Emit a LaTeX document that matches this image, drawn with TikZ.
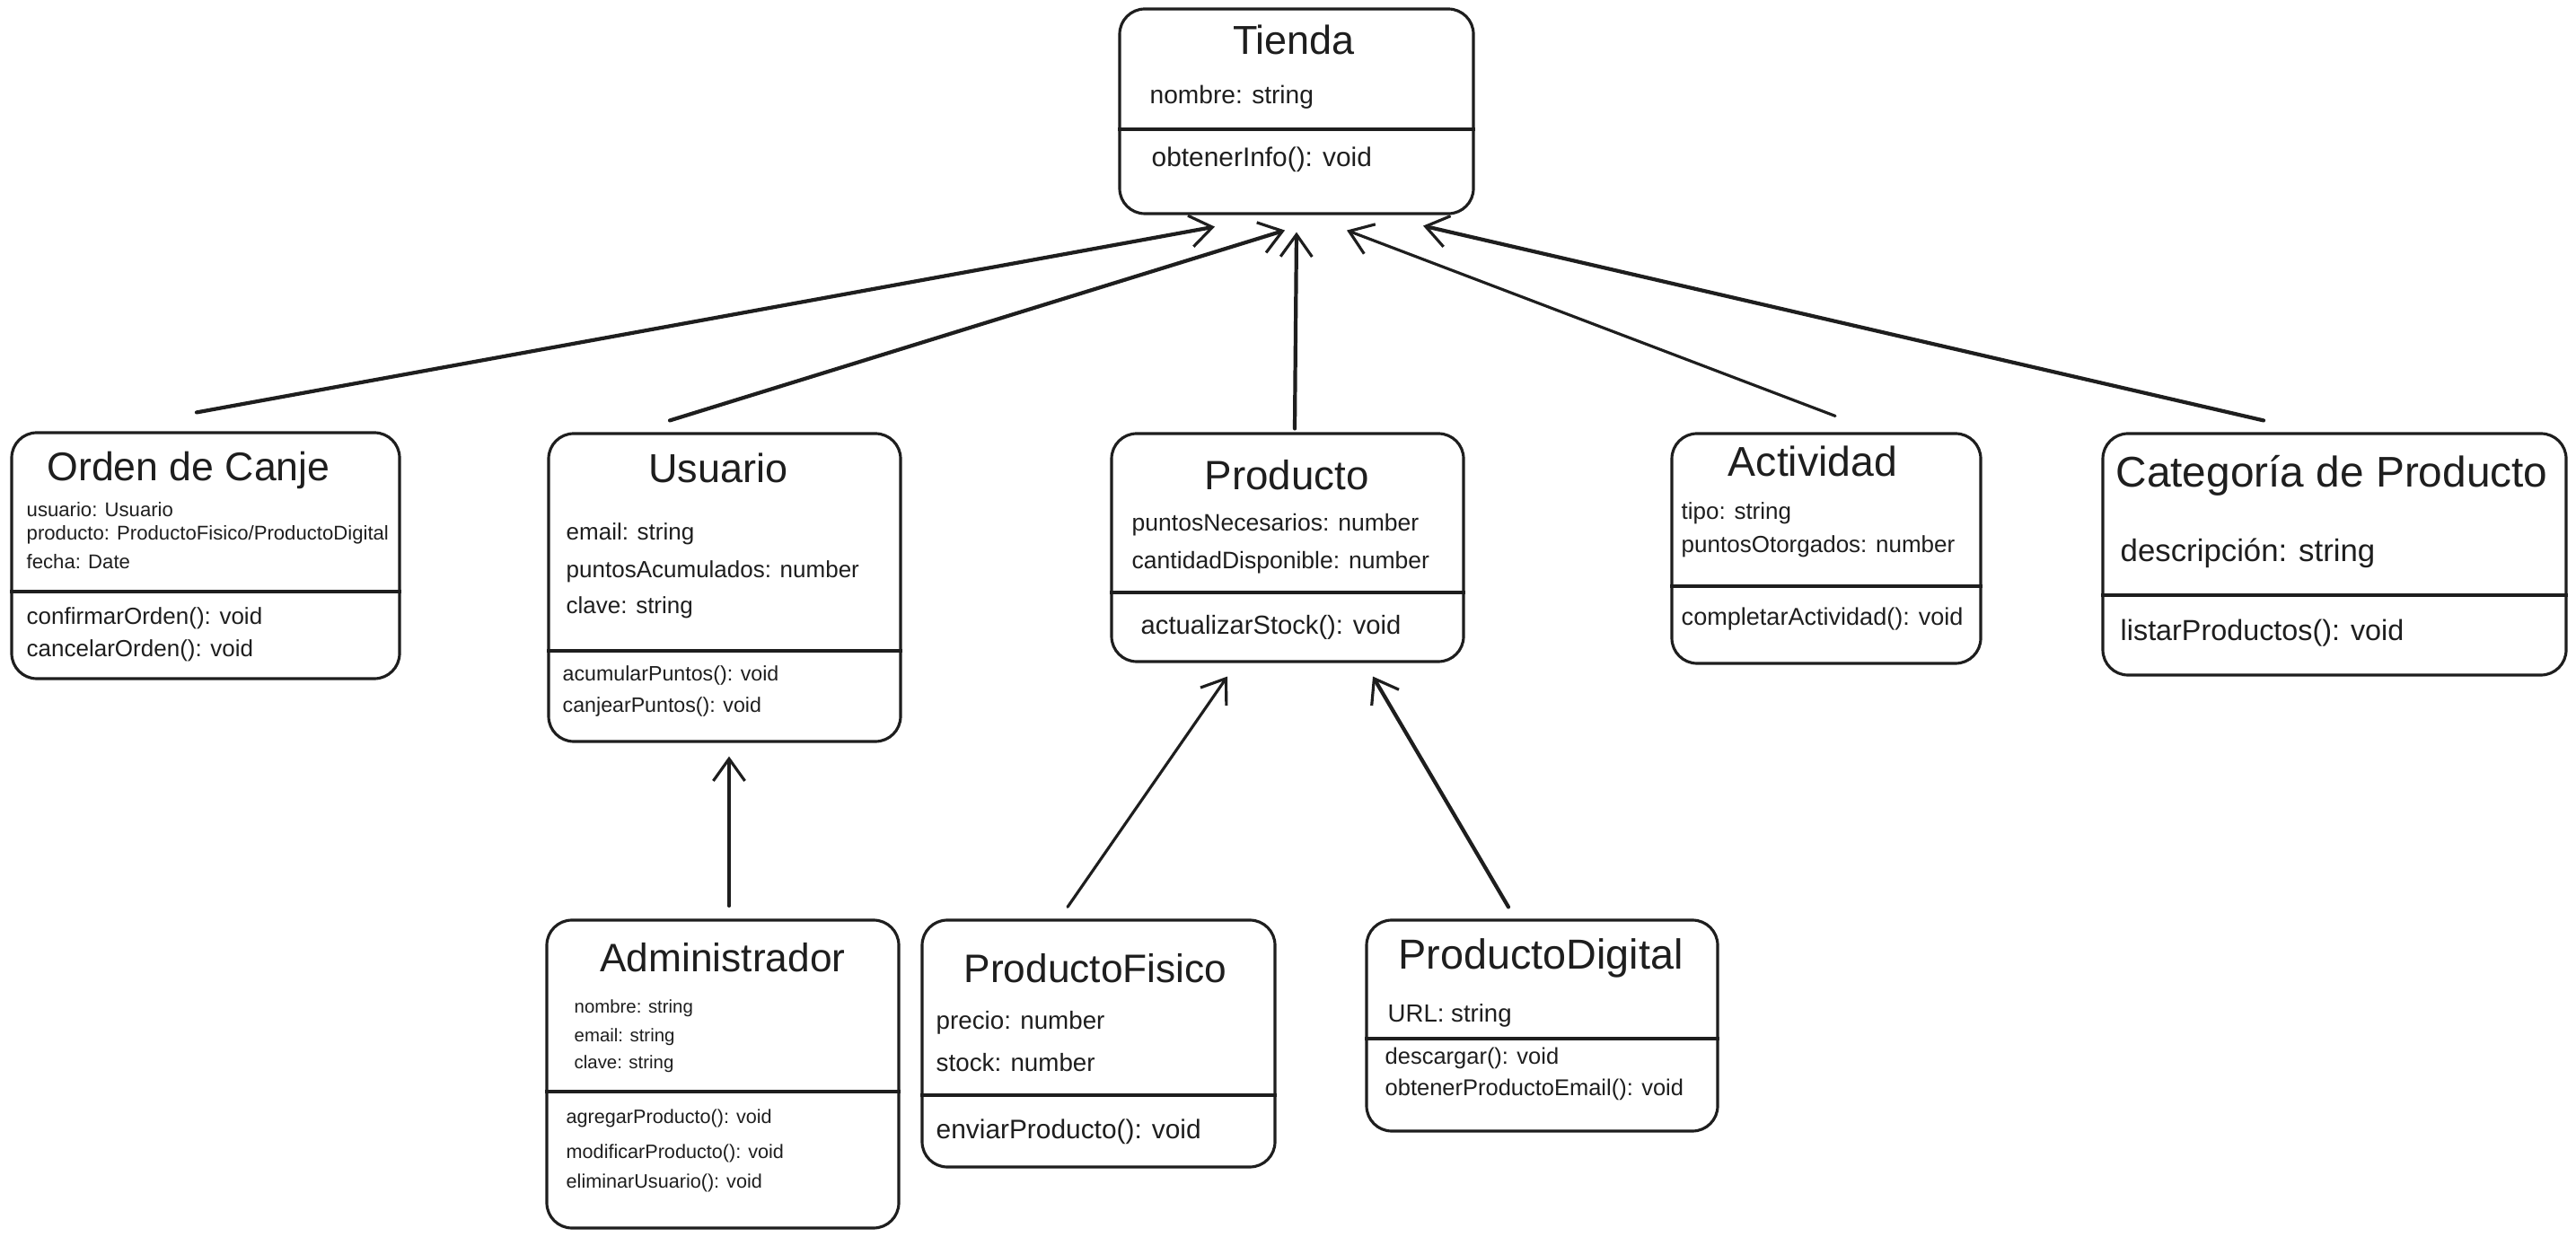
\documentclass[tikz,border=0pt]{standalone}
\usepackage{fontspec}
\setmainfont{Liberation Sans}
\usetikzlibrary{arrows.meta}
\definecolor{ink}{HTML}{1E1E1E}
\newcommand{\fs}[1]{\fontsize{#1}{#1}\selectfont}
\tikzset{
  box/.style={draw=ink, line width=0.9pt, rounded corners=0.28cm, inner sep=0pt, anchor=center},
  divline/.style={draw=ink, line width=0.9pt},
  arr/.style={draw=ink, line width=0.9pt, line cap=round, -{Straight Barb[length=7pt,width=10pt,line width=0.9pt]}},
  boldarr/.style={arr, line width=1.2pt},
  ttl/.style={anchor=center, inner sep=0pt, text height=0.72em, text depth=0em, text=ink},
  ln/.style={anchor=west, inner sep=0pt, text height=0.7em, text depth=0.2em, text=ink},
}
\begin{document}
\begin{tikzpicture}
\useasboundingbox[fill=white] (0,0) rectangle (28.69,-13.78);

% ---------- boxes ----------
\node[box, minimum width=3.94cm, minimum height=2.28cm] (tienda) at (14.44,-1.24) {};
\node[box, minimum width=4.32cm, minimum height=2.74cm] (orden) at (2.29,-6.19) {};
\node[box, minimum width=3.92cm, minimum height=3.43cm] (usuario) at (8.07,-6.545) {};
\node[box, minimum width=3.92cm, minimum height=2.54cm] (producto) at (14.34,-6.10) {};
\node[box, minimum width=3.44cm, minimum height=2.56cm] (actividad) at (20.34,-6.11) {};
\node[box, minimum width=5.16cm, minimum height=2.69cm] (categoria) at (26.00,-6.175) {};
\node[box, minimum width=3.92cm, minimum height=3.43cm] (admin) at (8.05,-11.965) {};
\node[box, minimum width=3.93cm, minimum height=2.75cm] (pfisico) at (12.235,-11.625) {};
\node[box, minimum width=3.91cm, minimum height=2.35cm] (pdigital) at (17.175,-11.425) {};

% ---------- dividers ----------
\draw[divline] (tienda.west |- 0,-1.44) -- (tienda.east |- 0,-1.44);
\draw[divline] (orden.west |- 0,-6.59) -- (orden.east |- 0,-6.59);
\draw[divline] (usuario.west |- 0,-7.25) -- (usuario.east |- 0,-7.25);
\draw[divline] (producto.west |- 0,-6.60) -- (producto.east |- 0,-6.60);
\draw[divline] (actividad.west |- 0,-6.53) -- (actividad.east |- 0,-6.53);
\draw[divline] (categoria.west |- 0,-6.63) -- (categoria.east |- 0,-6.63);
\draw[divline] (admin.west |- 0,-12.16) -- (admin.east |- 0,-12.16);
\draw[divline] (pfisico.west |- 0,-12.20) -- (pfisico.east |- 0,-12.20);
\draw[divline] (pdigital.west |- 0,-11.57) -- (pdigital.east |- 0,-11.57);

% ---------- Tienda ----------
\node[ttl, font=\fs{12.8}] (tiT) at (14.41,-0.48) {Tienda};
\node[ln, font=\fs{8.0}] (tiA1) at (12.80,-1.07) {nombre: string};
\node[ln, font=\fs{8.5}] (tiM1) at (12.82,-1.77) {obtenerInfo(): void};

% ---------- Orden de Canje ----------
\node[ttl, font=\fs{12.7}] (orT) at (2.10,-5.23) {Orden de Canje};
\node[ln, font=\fs{6.3}] (orA1) at (0.29,-5.67) {usuario: Usuario};
\node[ln, font=\fs{6.3}] (orA2) at (0.29,-5.93) {producto: ProductoFisico/ProductoDigital};
\node[ln, font=\fs{6.3}] (orA3) at (0.29,-6.25) {fecha: Date};
\node[ln, font=\fs{7.4}] (orM1) at (0.29,-6.87) {confirmarOrden(): void};
\node[ln, font=\fs{7.4}] (orM2) at (0.29,-7.23) {cancelarOrden(): void};

% ---------- Usuario ----------
\node[ttl, font=\fs{12.8}] (usT) at (8.00,-5.25) {Usuario};
\node[ln, font=\fs{7.4}] (usA1) at (6.30,-5.93) {email: string};
\node[ln, font=\fs{7.4}] (usA2) at (6.30,-6.35) {puntosAcumulados: number};
\node[ln, font=\fs{7.4}] (usA3) at (6.30,-6.75) {clave: string};
\node[ln, font=\fs{6.6}] (usM1) at (6.26,-7.50) {acumularPuntos(): void};
\node[ln, font=\fs{6.6}] (usM2) at (6.26,-7.85) {canjearPuntos(): void};

% ---------- Producto ----------
\node[ttl, font=\fs{13.0}] (prT) at (14.33,-5.33) {Producto};
\node[ln, font=\fs{7.55}] (prA1) at (12.60,-5.83) {puntosNecesarios: number};
\node[ln, font=\fs{7.55}] (prA2) at (12.60,-6.25) {cantidadDisponible: number};
\node[ln, font=\fs{8.3}] (prM1) at (12.70,-6.98) {actualizarStock(): void};

% ---------- Actividad ----------
\node[ttl, font=\fs{13.2}] (acT) at (20.19,-5.18) {Actividad};
\node[ln, font=\fs{7.4}] (acA1) at (18.72,-5.70) {tipo: string};
\node[ln, font=\fs{7.4}] (acA2) at (18.72,-6.07) {puntosOtorgados: number};
\node[ln, font=\fs{7.7}] (acM1) at (18.72,-6.88) {completarActividad(): void};

% ---------- Categoria ----------
\node[ttl, font=\fs{13.6}] (caT) at (25.97,-5.30) {Categoría de Producto};
\node[ln, font=\fs{9.9}] (caA1) at (23.61,-6.17) {descripción: string};
\node[ln, font=\fs{9.2}] (caM1) at (23.61,-7.05) {listarProductos(): void};

% ---------- Administrador ----------
\node[ttl, font=\fs{12.6}] (adT) at (8.05,-10.70) {Administrador};
\node[ln, font=\fs{5.8}] (adA1) at (6.39,-11.20) {nombre: string};
\node[ln, font=\fs{5.8}] (adA2) at (6.39,-11.52) {email: string};
\node[ln, font=\fs{5.8}] (adA3) at (6.39,-11.82) {clave: string};
\node[ln, font=\fs{6.15}] (adM1) at (6.30,-12.43) {agregarProducto(): void};
\node[ln, font=\fs{6.15}] (adM2) at (6.30,-12.82) {modificarProducto(): void};
\node[ln, font=\fs{6.15}] (adM3) at (6.30,-13.15) {eliminarUsuario(): void};

% ---------- ProductoFisico ----------
\node[ttl, font=\fs{12.6}] (pfT) at (12.20,-10.82) {ProductoFisico};
\node[ln, font=\fs{7.9}] (pfA1) at (10.42,-11.38) {precio: number};
\node[ln, font=\fs{7.9}] (pfA2) at (10.42,-11.85) {stock: number};
\node[ln, font=\fs{8.5}] (pfM1) at (10.42,-12.60) {enviarProducto(): void};

% ---------- ProductoDigital ----------
\node[ttl, font=\fs{13.3}] (pdT) at (17.16,-10.67) {ProductoDigital};
\node[ln, font=\fs{7.85}] (pdA1) at (15.45,-11.30) {URL: string};
\node[ln, font=\fs{7.25}] (pdM1) at (15.42,-11.77) {descargar(): void};
\node[ln, font=\fs{7.25}] (pdM2) at (15.42,-12.12) {obtenerProductoEmail(): void};

% ---------- arrows ----------
\draw[boldarr] ([shift={(-0.10,0.21)}]orden.north) -- ([shift={(-0.91,-0.13)}]tienda.south);
\draw[boldarr] ([shift={(-0.61,0.13)}]usuario.north) -- ([shift={(-0.13,-0.17)}]tienda.south);
\draw[boldarr] ([shift={(0.08,0.04)}]producto.north) -- ([shift={(0.00,-0.19)}]tienda.south);
\draw[arr] ([shift={(0.10,0.18)}]actividad.north) -- ([shift={(0.56,-0.17)}]tienda.south);
\draw[boldarr] ([shift={(-0.79,0.13)}]categoria.north) -- ([shift={(1.41,-0.12)}]tienda.south);
\draw[arr] ([shift={(0.07,0.14)}]admin.north) -- ([shift={(0.05,-0.15)}]usuario.south);
\draw[arr] ([shift={(-0.345,0.13)}]pfisico.north) -- ([shift={(-0.67,-0.15)}]producto.south);
\draw[boldarr] ([shift={(-0.375,0.13)}]pdigital.north) -- ([shift={(0.95,-0.15)}]producto.south);
\end{tikzpicture}
\end{document}
